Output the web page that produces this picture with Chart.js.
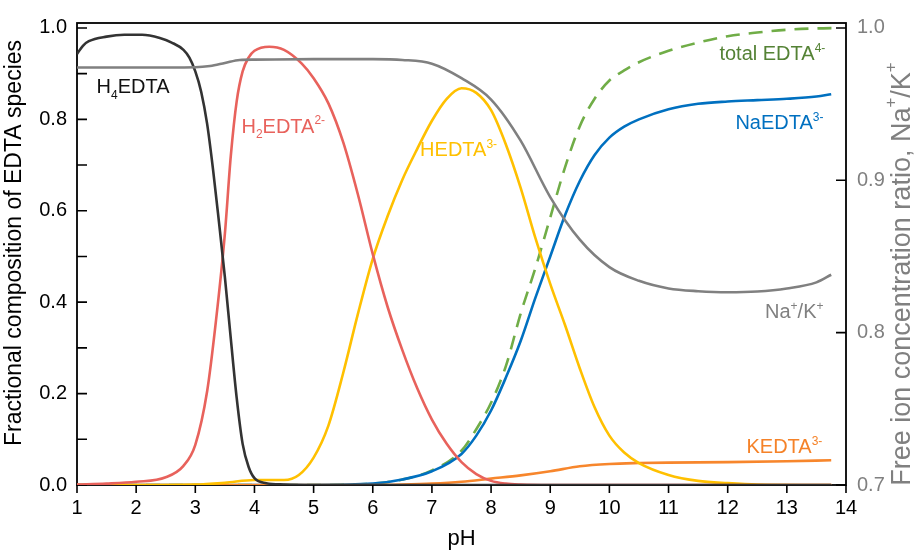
<!DOCTYPE html>
<html>
<head>
<meta charset="utf-8">
<script src="https://cdn.jsdelivr.net/npm/chart.js@4.4.0/dist/chart.umd.min.js"></script>
<style>
  html, body { margin: 0; padding: 0; background: #fff; }
</style>
</head>
<body>
<canvas id="myChart" width="915" height="553"></canvas>
<script>
// pH values and fractions
let h4Ph  = [1, 1.1, 1.2, 1.5, 1.8, 2.1, 2.4, 2.6, 2.8, 2.9, 3.0, 3.1, 3.2, 3.3, 3.4, 3.5, 3.6, 3.7, 3.8, 3.9, 4.0, 4.2, 4.5, 5, 6, 8, 10, 12, 13.75]
let h4Val = [0.943, 0.961, 0.971, 0.981, 0.985, 0.985, 0.978, 0.968, 0.952, 0.935, 0.905, 0.86, 0.79, 0.69, 0.575, 0.455, 0.32, 0.19, 0.09, 0.04, 0.015, 0.004, 0.001, 0, 0, 0, 0, 0, 0]

let h2Ph  = [1, 1.5, 2, 2.5, 2.8, 3.0, 3.2, 3.35, 3.5, 3.6, 3.7, 3.8, 3.9, 4.0, 4.25, 4.5, 4.8, 5.0, 5.25, 5.5, 5.75, 6.0, 6.25, 6.5, 6.75, 7.0, 7.25, 7.5, 7.75, 8.0, 8.25, 8.5, 9, 10, 12, 13.75]
let h2Val = [0.001, 0.003, 0.007, 0.017, 0.042, 0.088, 0.205, 0.36, 0.55, 0.72, 0.84, 0.905, 0.935, 0.95, 0.959, 0.952, 0.922, 0.89, 0.835, 0.75, 0.635, 0.505, 0.39, 0.295, 0.212, 0.143, 0.09, 0.05, 0.024, 0.009, 0.003, 0.001, 0, 0, 0, 0]

let hPh  = [1, 2, 3, 3.5, 4.0, 4.5, 4.75, 5.0, 5.25, 5.5, 5.75, 6.0, 6.25, 6.5, 6.75, 7.0, 7.25, 7.5, 7.75, 8.0, 8.25, 8.5, 8.75, 9.0, 9.25, 9.5, 9.75, 10.0, 10.25, 10.5, 11.0, 11.5, 12.0, 12.5, 13.75]
let hVal = [0, 0, 0.001, 0.005, 0.011, 0.011, 0.022, 0.06, 0.13, 0.245, 0.375, 0.495, 0.588, 0.668, 0.735, 0.797, 0.845, 0.868, 0.858, 0.82, 0.745, 0.65, 0.54, 0.44, 0.35, 0.255, 0.17, 0.108, 0.071, 0.048, 0.022, 0.009, 0.004, 0.001, 0]

let naPh  = [1, 3, 5, 6.0, 6.5, 7.0, 7.5, 7.75, 8.0, 8.25, 8.5, 8.75, 9.0, 9.25, 9.5, 9.75, 10.0, 10.25, 10.5, 11.0, 11.5, 12.0, 12.5, 13.0, 13.5, 13.75]
let naVal = [0, 0, 0, 0.003, 0.012, 0.03, 0.068, 0.108, 0.163, 0.235, 0.315, 0.41, 0.5, 0.59, 0.665, 0.722, 0.76, 0.784, 0.8, 0.822, 0.834, 0.839, 0.842, 0.845, 0.85, 0.855]

let totPh  = [1, 3, 5, 6.0, 6.5, 7.0, 7.5, 7.75, 8.0, 8.25, 8.5, 8.75, 9.0, 9.25, 9.5, 9.75, 10.0, 10.25, 10.5, 11.0, 11.5, 12.0, 12.5, 13.0, 13.5, 13.9]
let totVal = [0, 0, 0, 0.003, 0.012, 0.032, 0.075, 0.122, 0.18, 0.26, 0.375, 0.475, 0.585, 0.695, 0.785, 0.845, 0.885, 0.907, 0.925, 0.95, 0.968, 0.982, 0.99, 0.996, 0.999, 1.0]

let kPh  = [1, 4, 6, 6.5, 7.0, 7.5, 8.0, 8.5, 9.0, 9.5, 10.0, 10.5, 11.0, 12.0, 13.0, 13.75]
let kVal = [0, 0, 0, 0.001, 0.003, 0.007, 0.014, 0.021, 0.03, 0.041, 0.046, 0.048, 0.049, 0.05, 0.052, 0.054]

// Na+/K+ ratio, right axis
let nkPh  = [1, 2, 3.0, 3.25, 3.5, 3.75, 4.0, 5.0, 6.0, 6.5, 7.0, 7.5, 8.0, 8.5, 9.0, 9.5, 10.0, 10.5, 11.0, 11.5, 12.0, 12.5, 13.0, 13.5, 13.75]
let nkVal = [0.974, 0.974, 0.9742, 0.975, 0.977, 0.979, 0.9792, 0.9795, 0.9795, 0.979, 0.9765, 0.967, 0.953, 0.926, 0.889, 0.861, 0.843, 0.834, 0.829, 0.8272, 0.8265, 0.827, 0.829, 0.833, 0.838]

let xTicks = [1, 2, 3, 4, 5, 6, 7, 8, 9, 10, 11, 12, 13, 14]
let leftTicks = [0, 0.1, 0.2, 0.3, 0.4, 0.5, 0.6, 0.7, 0.8, 0.9, 1.0]
let rightTicks = [0.7, 0.8, 0.9, 1.0]

const FONT = '"Liberation Sans", Arial, sans-serif'

function pts(xs, ys) {
    return xs.map((x, i) => ({x: x, y: ys[i]}))
}

function line(label, xs, ys, color, axis, dash) {
    return {
        label: label,
        data: pts(xs, ys),
        borderColor: color,
        backgroundColor: color,
        borderWidth: 2.6,
        borderDash: dash || [],
        pointRadius: 0,
        cubicInterpolationMode: 'monotone',
        yAxisID: axis
    }
}

// curve labels: [text, 'sub'|'sup'|undefined]
const curveLabels = [
    {parts: [['H'], ['4', 'sub'], ['EDTA']], ph: 1.33, v: 0.857, align: 'left', color: '#111'},
    {parts: [['H'], ['2', 'sub'], ['EDTA'], ['2-', 'sup']], ph: 3.78, v: 0.771, align: 'left', color: 'rgb(232,98,92)'},
    {parts: [['HEDTA'], ['3-', 'sup']], ph: 6.80, v: 0.719, align: 'left', color: 'rgb(255,192,0)'},
    {parts: [['NaEDTA'], ['3-', 'sup']], ph: 13.62, v: 0.778, align: 'right', color: 'rgb(0,112,192)'},
    {parts: [['total EDTA'], ['4-', 'sup']], ph: 13.65, v: 0.929, align: 'right', color: 'rgb(84,130,53)'},
    {parts: [['Na'], ['+', 'sup'], ['/K'], ['+', 'sup']], ph: 13.62, v: 0.365, align: 'right', color: 'rgb(128,128,128)'},
    {parts: [['KEDTA'], ['3-', 'sup']], ph: 13.60, v: 0.069, align: 'right', color: 'rgb(245,130,40)'}
]

function drawRich(ctx, parts, x, y, align, size) {
    let big = size + 'px ' + FONT
    let small = Math.round(size * 0.62) + 'px ' + FONT
    let w = 0
    parts.forEach(p => { ctx.font = p[1] ? small : big; w += ctx.measureText(p[0]).width })
    let cx = align === 'right' ? x - w : (align === 'center' ? x - w / 2 : x)
    parts.forEach(p => {
        ctx.font = p[1] ? small : big
        let dy = p[1] === 'sub' ? size * 0.28 : (p[1] === 'sup' ? -size * 0.42 : 0)
        ctx.fillText(p[0], cx, y + dy)
        cx += ctx.measureText(p[0]).width
    })
    return w
}

const frameTicks = {
    id: 'frameTicks',
    beforeDatasetsDraw(chart) {
        const {ctx, chartArea: a, scales} = chart
        ctx.save()
        ctx.strokeStyle = '#000'
        ctx.lineWidth = 1.8
        ctx.strokeRect(a.left, a.top, a.right - a.left, a.bottom - a.top)
        ctx.lineWidth = 1.6
        ctx.beginPath()
        xTicks.forEach(v => {
            let px = scales.x.getPixelForValue(v)
            ctx.moveTo(px, a.bottom); ctx.lineTo(px, a.bottom + 8)
        })
        leftTicks.forEach(v => {
            let py = scales.y.getPixelForValue(v)
            ctx.moveTo(a.left, py); ctx.lineTo(a.left + 10, py)
        })
        rightTicks.forEach(v => {
            let py = scales.y2.getPixelForValue(v)
            ctx.moveTo(a.right, py); ctx.lineTo(a.right - 10, py)
        })
        ctx.stroke()
        ctx.restore()
    },
    afterDatasetsDraw(chart) {
        const {ctx, scales} = chart
        ctx.save()
        ctx.textBaseline = 'alphabetic'
        curveLabels.forEach(l => {
            ctx.fillStyle = l.color
            drawRich(ctx, l.parts, scales.x.getPixelForValue(l.ph), scales.y.getPixelForValue(l.v), l.align, 20)
        })
        ctx.textBaseline = 'middle'
        // left axis title
        ctx.save()
        ctx.translate(15, 243)
        ctx.rotate(-Math.PI / 2)
        ctx.fillStyle = '#000'
        drawRich(ctx, [['Fractional composition of EDTA species']], 0, 0, 'center', 23)
        ctx.restore()
        // right axis title, reads bottom to top
        ctx.translate(903, 274)
        ctx.rotate(-Math.PI / 2)
        ctx.fillStyle = 'rgb(128,128,128)'
        drawRich(ctx, [['Free ion concentration ratio, Na'], ['+', 'sup'], ['/K'], ['+', 'sup']], 0, 0, 'center', 27)
        ctx.restore()
    }
}

const data = {
    datasets: [
        line('Na+/K+', nkPh, nkVal, 'rgb(128,128,128)', 'y2'),
        line('H4EDTA', h4Ph, h4Val, 'rgb(51,51,51)', 'y'),
        line('H2EDTA2-', h2Ph, h2Val, 'rgb(232,98,92)', 'y'),
        line('HEDTA3-', hPh, hVal, 'rgb(255,192,0)', 'y'),
        line('KEDTA3-', kPh, kVal, 'rgb(247,134,44)', 'y'),
        line('NaEDTA3-', naPh, naVal, 'rgb(0,112,192)', 'y'),
        line('total EDTA4-', totPh, totVal, 'rgb(112,173,71)', 'y', [14, 9])
    ]
}

const config = {
    type: 'line',
    data: data,
    options: {
        responsive: false,
        animation: false,
        devicePixelRatio: 1,
        layout: { padding: { top: 17, left: 0, right: 0, bottom: 0 } },
        plugins: { legend: { display: false }, tooltip: { enabled: false } },
        scales: {
            x: {
                type: 'linear', min: 1, max: 14,
                grid: { display: false, drawTicks: false },
                border: { display: false },
                ticks: { stepSize: 1, padding: 11, color: '#000', font: { family: FONT, size: 20 } },
                title: { display: true, text: 'pH', color: '#000', font: { family: FONT, size: 22 }, padding: { top: 0, bottom: 1 } },
                afterFit(s) { s.height = 68 }
            },
            y: {
                type: 'linear', position: 'left', min: 0, max: 1.0108,
                grid: { display: false, drawTicks: false },
                border: { display: false },
                ticks: { stepSize: 0.2, includeBounds: false, padding: 10, color: '#000',
                    font: { family: FONT, size: 20 }, callback: v => v.toFixed(1) },
                afterFit(s) { s.width = 77 }
            },
            y2: {
                type: 'linear', position: 'right', min: 0.7, max: 1.00324,
                grid: { display: false, drawTicks: false },
                border: { display: false },
                ticks: { stepSize: 0.1, includeBounds: false, padding: 11, color: 'rgb(128,128,128)',
                    font: { family: FONT, size: 20 }, callback: v => v.toFixed(1) },
                afterFit(s) { s.width = 69 }
            }
        }
    },
    plugins: [frameTicks]
}

var ctx = document.getElementById('myChart')
var mychart = new Chart(ctx, config)
</script>
</body>
</html>
